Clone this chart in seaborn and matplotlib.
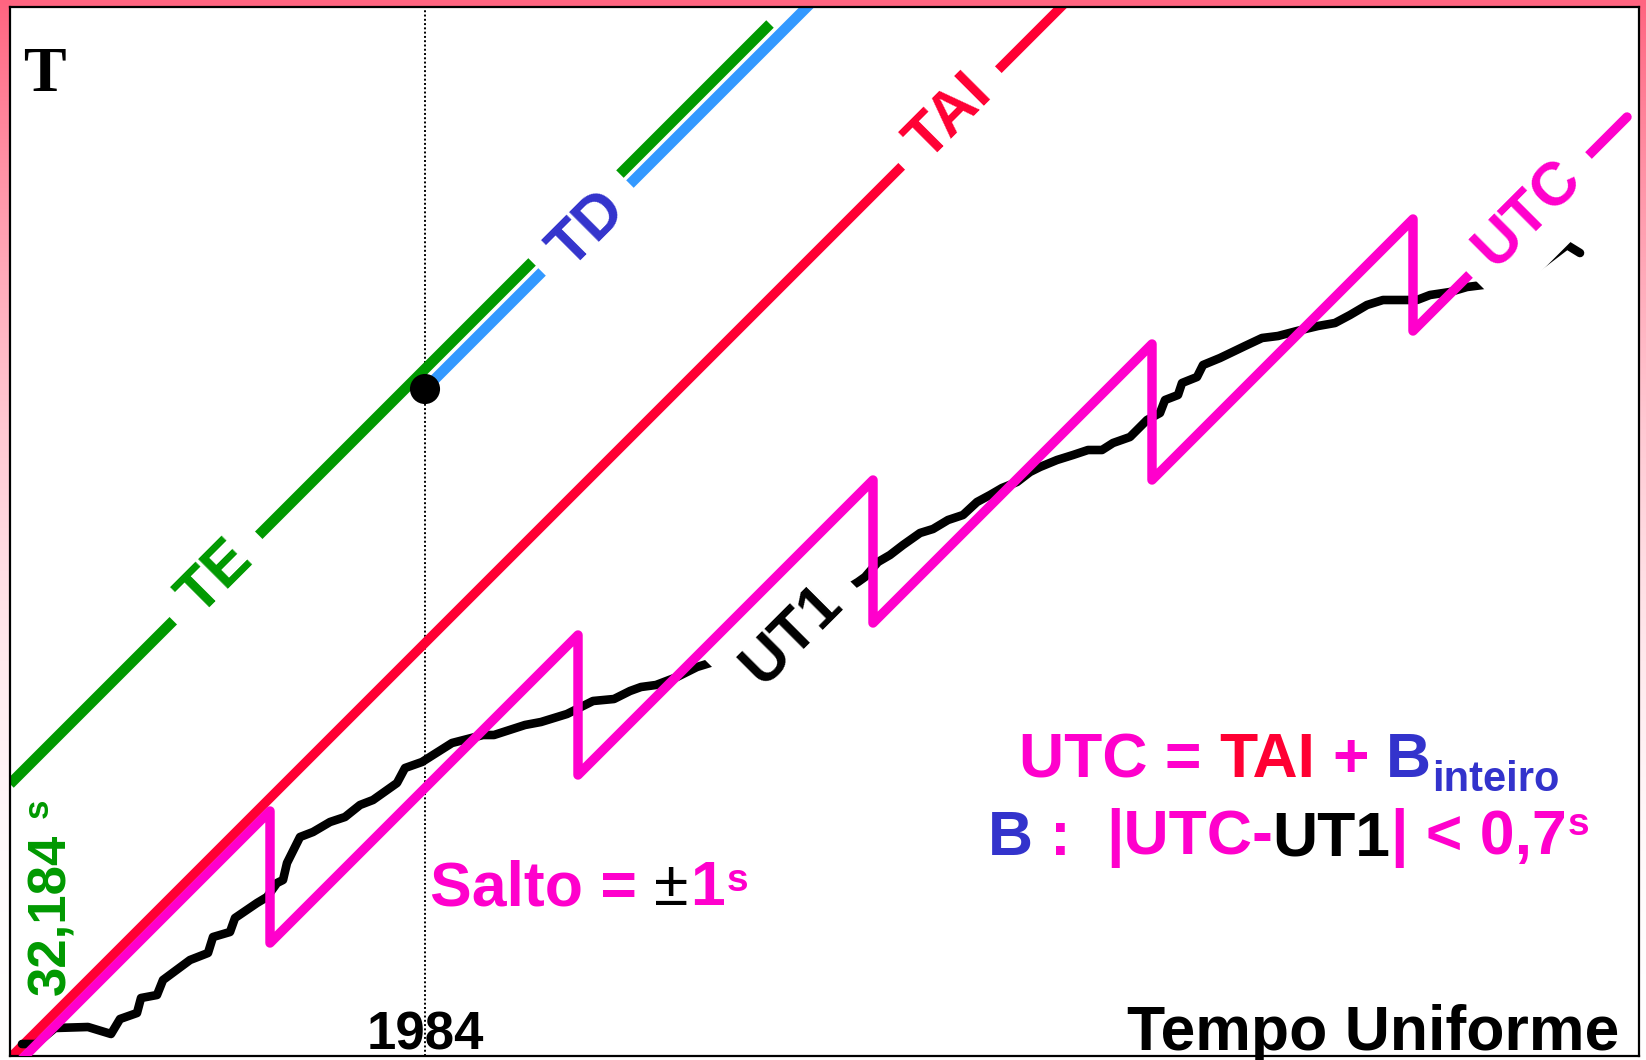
import numpy as np
import matplotlib
matplotlib.use("Agg")
import matplotlib.pyplot as plt
import seaborn as sns

# ---- data (schematic units: horizontal = uniform time, vertical = clock reading T) ----
te_x = [0, 760]
te_y = [272, 1032]
td_x = [415, 800]
td_y = [667, 1052]
tai_x = [0, 1055]
tai_y = [-2, 1053]
utc_x = [10, 260, 260, 568, 568, 863, 863, 1142, 1142, 1403, 1403, 1617]
utc_y = [-5, 245, 113, 421, 281, 576, 433, 712, 576, 837, 725, 939]
ut1_x = [12, 26, 45, 78, 101, 110, 127, 131, 147, 153, 180, 198, 203, 220, 225, 247,
         257, 267, 273, 277, 290, 303, 320, 335, 350, 363, 387, 395, 412, 423, 442, 473,
         484, 515, 531, 557, 573, 583, 604, 620, 631, 646, 667, 687, 700, 750, 800, 835,
         848, 855, 868, 880, 893, 910, 923, 938, 953, 967, 980, 992, 1007, 1020, 1030, 1047,
         1063, 1078, 1092, 1103, 1120, 1130, 1137, 1150, 1155, 1168, 1172, 1187, 1193, 1210,
         1235, 1252, 1268, 1287, 1308, 1325, 1340, 1357, 1373, 1407, 1420, 1440, 1457, 1473,
         1500, 1527, 1557, 1570]
ut1_y = [12, 12, 28, 29, 22, 37, 43, 58, 61, 76, 96, 103, 119, 124, 138, 153,
         159, 173, 176, 193, 219, 224, 234, 239, 251, 256, 273, 288, 294, 301, 313, 321,
         321, 331, 334, 342, 350, 355, 357, 365, 369, 371, 379, 389, 393, 416, 446, 466,
         474, 479, 494, 501, 511, 523, 527, 536, 541, 554, 561, 568, 574, 584, 589, 596,
         601, 606, 606, 613, 619, 629, 636, 643, 656, 661, 673, 679, 691, 698,
         710, 718, 720, 725, 730, 733, 741, 751, 756, 756, 761, 764, 769, 771,
         778, 788, 811, 803]
epoch_x = 415          # 1984: TD takes over from TE
epoch_y = 667
epoch_label = "1984"
te_offset_label = "32,184"

# ---- colours ----
GREEN = "#009900"
LBLUE = "#3399ff"
BLUE = "#3333cc"
RED = "#ff0033"
MAGENTA = "#ff00cc"
BLACK = "#000000"

sns.set_theme(style="white")
plt.rcParams["font.family"] = ["Liberation Sans", "DejaVu Sans"]

W, H = 1646, 1060
fig = plt.figure(figsize=(W / 100, H / 100), dpi=100)

# pink frame fading downwards
bg = fig.add_axes([0, 0, 1, 1], zorder=-5)
t = np.linspace(0, 1, H)[:, None]
f = 1 - (1 - t) ** 2
img = np.zeros((H, 2, 3))
img[..., 0] = 1.0
img[..., 1] = (100 + 155 * f) / 255
img[..., 2] = (128 + 127 * f) / 255
bg.imshow(img, extent=[0, 1, 0, 1], aspect="auto", origin="upper")
bg.set_axis_off()

ax = fig.add_axes([10 / W, 4 / H, 1629 / W, 1049 / H])
ax.set_facecolor("white")
ax.set_xlim(0, 1629)
ax.set_ylim(0, 1049)
ax.set_xticks([])
ax.set_yticks([])
for sp in ax.spines.values():
    sp.set_color("black")
    sp.set_linewidth(1.6)

# epoch marker line
ax.axvline(epoch_x, color="black", lw=1.4, dashes=(1, 1.2), zorder=1.5)

line_kw = dict(ax=ax, sort=False, estimator=None, legend=False)
sns.lineplot(x=te_x, y=te_y, color=GREEN, linewidth=7.6, solid_capstyle="butt", zorder=2, **line_kw)
sns.lineplot(x=td_x, y=td_y, color=LBLUE, linewidth=7.6, solid_capstyle="butt", zorder=2, **line_kw)
sns.lineplot(x=tai_x, y=tai_y, color=RED, linewidth=6.8, solid_capstyle="butt", zorder=2, **line_kw)
sns.lineplot(x=ut1_x, y=ut1_y, color=BLACK, linewidth=6.2, solid_capstyle="round",
             solid_joinstyle="round", zorder=2.2, **line_kw)
sns.lineplot(x=utc_x, y=utc_y, color=MAGENTA, linewidth=6.8, solid_capstyle="round",
             solid_joinstyle="round", zorder=3, **line_kw)
sns.scatterplot(x=[epoch_x], y=[epoch_y], s=470, color="black", edgecolor="none",
                zorder=5, ax=ax, legend=False)

# labels sitting on the lines
def line_label(x, y, s, color, z, size=44):
    ax.text(x, y, s, color=color, fontsize=size, fontweight="bold", rotation=45,
            rotation_mode="anchor", ha="center", va="center", zorder=z,
            bbox=dict(boxstyle="square,pad=0.35", facecolor="white", edgecolor="none"))

line_label(206, 478, "TE", GREEN, 4)
line_label(578, 826, "TD", BLUE, 4)
line_label(940, 938, "TAI", RED, 4)
line_label(1518, 842, "UTC", MAGENTA, 4)
line_label(782, 421, "UT1", BLACK, 2.5)

# multi-colour text runs
def runs(x, y, parts, size=45):
    prev = None
    for s, color, dx, dy, fs, wt in parts:
        fs = fs or size
        if prev is None:
            prev = ax.text(x, y, s, color=color, fontsize=fs, fontweight=wt,
                           ha="left", va="baseline", zorder=6)
        else:
            prev = ax.annotate(s, xy=(1, 0), xycoords=prev, xytext=(dx, dy),
                               textcoords="offset points", color=color, fontsize=fs,
                               fontweight=wt, ha="left", va="bottom", zorder=6)
    return prev

sp45 = 0.278 * 45
runs(1009, 279, [("UTC =", MAGENTA, 0, 0, None, "bold"),
                 ("TAI", RED, sp45, 0, None, "bold"),
                 ("+", MAGENTA, sp45, 0, None, "bold"),
                 ("B", BLUE, sp45, 0, None, "bold"),
                 ("inteiro", BLUE, 1, -7, 30, "bold")])
runs(978, 201, [("B", BLUE, 0, 0, None, "bold"),
                (":", MAGENTA, sp45, 0, None, "bold"),
                ("|UTC-", MAGENTA, 2 * sp45, 0, None, "bold"),
                ("UT1", BLACK, 0, 0, None, "bold"),
                ("| < 0,7", MAGENTA, 0, 0, None, "bold"),
                ("s", MAGENTA, 1, 18, 28, "bold")])
runs(420, 151, [("Salto =", MAGENTA, 0, 0, None, "bold"),
                ("±", BLACK, sp45, 0, None, "normal"),
                ("1", MAGENTA, 1, 0, None, "bold"),
                ("s", MAGENTA, 1, 14, 28, "bold")])

ax.text(12.7, 965, "T", fontsize=46, fontweight="bold", color="black",
        family=["Liberation Serif", "DejaVu Serif"], ha="left", va="baseline", zorder=6)
ax.text(epoch_x, 6, epoch_label, fontsize=38, fontweight="bold", color="black",
        ha="center", va="baseline", zorder=6)
ax.text(1609, 6, "Tempo Uniforme", fontsize=45, fontweight="bold", color="black",
        ha="right", va="baseline", zorder=6)
ax.text(55, 61, te_offset_label, fontsize=38, fontweight="bold", color=GREEN,
        rotation=90, rotation_mode="anchor", ha="left", va="baseline", zorder=6)
ax.text(38, 238, "s", fontsize=25, fontweight="bold", color=GREEN,
        rotation=90, rotation_mode="anchor", ha="left", va="baseline", zorder=6)

fig.savefig("out.png", dpi=100)
